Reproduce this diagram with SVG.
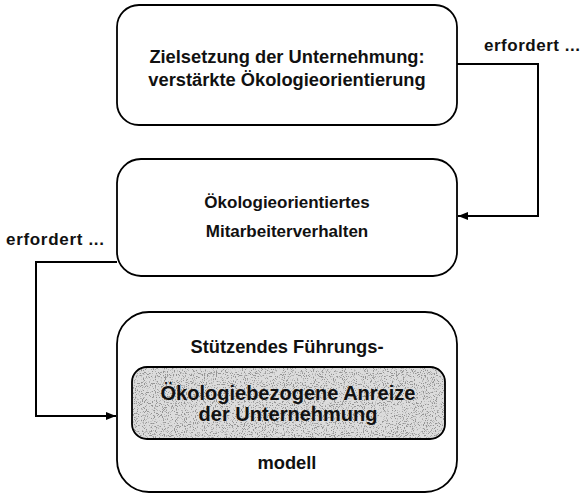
<svg xmlns="http://www.w3.org/2000/svg" width="585" height="494" viewBox="0 0 585 494">
<defs>
<style>
.box{fill:#fff;stroke:#000;stroke-width:1.8}
.t{font-family:"Liberation Sans",Arial,sans-serif;font-weight:bold;fill:#111;text-anchor:middle}
.lbl{font-family:"Liberation Sans",Arial,sans-serif;font-weight:bold;fill:#111;font-size:17px}
.con{fill:none;stroke:#000;stroke-width:2}
</style>
<marker id="arr" viewBox="0 0 10 8" refX="10" refY="4" markerWidth="10" markerHeight="8" markerUnits="userSpaceOnUse" orient="auto">
<path d="M0,0 L10,4 L0,8 Z" fill="#000"/>
</marker>
<filter id="speckle" x="0" y="0" width="100%" height="100%">
<feTurbulence type="fractalNoise" baseFrequency="0.9" numOctaves="2" seed="3" result="n"/>
<feColorMatrix in="n" type="matrix" values="0 0 0 0 0.3  0 0 0 0 0.3  0 0 0 0 0.3  8 0 0 0 -4.4" result="dark"/>
<feComposite in="dark" in2="SourceGraphic" operator="in"/>
</filter>
<clipPath id="innerClip"><rect x="132" y="367" width="313" height="72" rx="15"/></clipPath>
</defs>
<g id="node-ziel">
<rect class="box" x="117" y="5" width="340" height="120" rx="22"/>
<text class="t" x="287" y="63" font-size="18.3">Zielsetzung der Unternehmung:</text>
<text class="t" x="287" y="86" font-size="18.3">verstärkte Ökologieorientierung</text>
</g>
<g id="node-verhalten">
<rect class="box" x="117" y="159" width="340" height="117" rx="24"/>
<text class="t" x="287" y="208" font-size="17">Ökologieorientiertes</text>
<text class="t" x="287" y="237" font-size="17">Mitarbeiterverhalten</text>
</g>
<g id="node-fuehrung">
<rect class="box" x="117" y="312" width="340" height="180" rx="32"/>
<text class="t" x="287" y="353" font-size="18.3">Stützendes Führungs-</text>
<text class="t" x="287" y="469" font-size="18.3">modell</text>
</g>
<g id="node-anreize">
<rect x="132" y="367" width="313" height="72" rx="15" fill="#dcdcdc"/>
<rect x="132" y="367" width="313" height="72" fill="#000" filter="url(#speckle)" clip-path="url(#innerClip)"/>
<rect x="132" y="367" width="313" height="72" rx="15" fill="none" stroke="#000" stroke-width="1.8"/>
<text class="t" x="288" y="400" font-size="20">Ökologiebezogene Anreize</text>
<text class="t" x="288" y="421" font-size="20">der Unternehmung</text>
</g>
<g id="connectors">
<path class="con" d="M457,64 H538 V216 H458" marker-end="url(#arr)"/>
<path class="con" d="M117,262 H36 V416 H116" marker-end="url(#arr)"/>
<text class="lbl" x="484" y="51" textLength="96">erfordert ...</text>
<text class="lbl" x="6" y="245" textLength="98">erfordert ...</text>
</g>
</svg>
